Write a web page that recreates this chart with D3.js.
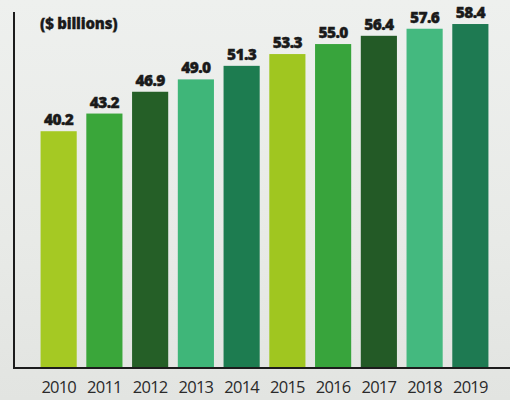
<!DOCTYPE html>
<html>
<head>
<meta charset="utf-8">
<script src="https://cdn.jsdelivr.net/npm/d3@7"></script>
<style>
  html, body { margin: 0; padding: 0; background: #e7e9e6; }
  svg { display: block; }
</style>
</head>
<body>
<svg id="chart" width="510" height="400"></svg>
<script>
// Annual totals, $ billions
const years = ["2010", "2011", "2012", "2013", "2014", "2015", "2016", "2017", "2018", "2019"];
const values = [40.2, 43.2, 46.9, 49.0, 51.3, 53.3, 55.0, 56.4, 57.6, 58.4];
const barColors = ["#a5c923", "#3aa63a", "#255f27", "#3fb679", "#1d7c50",
                   "#a0c620", "#38a43c", "#235a26", "#44b97f", "#1e7a52"];
const unitLabel = "($ billions)";

const svg = d3.select("#chart");
const W = 510, H = 400;

// soft paper backdrop
const defs = svg.append("defs");
const bg = defs.append("linearGradient").attr("id", "paper")
  .attr("x1", 0).attr("y1", 0).attr("x2", 0).attr("y2", 1);
bg.append("stop").attr("offset", "0%").attr("stop-color", "#eef0ee");
bg.append("stop").attr("offset", "60%").attr("stop-color", "#e8eae7");
bg.append("stop").attr("offset", "100%").attr("stop-color", "#e2e4e1");
svg.append("rect").attr("width", W).attr("height", H).attr("fill", "url(#paper)");

const axisX = 14, baseY = 368;

const x = d3.scaleBand()
  .domain(years)
  .range([36, 493])
  .paddingInner(0.21)
  .paddingOuter(0.1);

const y = d3.scaleLinear()
  .domain([0, 60])
  .range([baseY, baseY - 5.89 * 60]);

// bars
svg.append("g").selectAll("rect")
  .data(values)
  .join("rect")
  .attr("x", (d, i) => x(years[i]))
  .attr("y", d => y(d))
  .attr("width", x.bandwidth())
  .attr("height", d => y(0) - y(d))
  .attr("fill", (d, i) => barColors[i]);

// value labels
svg.append("g").selectAll("text")
  .data(values)
  .join("text")
  .attr("x", (d, i) => x(years[i]) + x.bandwidth() / 2)
  .attr("y", d => y(d) - 6)
  .attr("text-anchor", "middle")
  .attr("font-family", "'Open Sans', 'DejaVu Sans', sans-serif")
  .attr("font-weight", 800)
  .attr("font-size", 15.5)
  .attr("letter-spacing", -0.6)
  .attr("fill", "#1a1a1a")
  .attr("stroke", "#1a1a1a")
  .attr("stroke-width", 0.4)
  .text(d => d.toFixed(1));

// year axis
const xAxis = d3.axisBottom(x).tickSize(0).tickPadding(13);
const gx = svg.append("g")
  .attr("transform", `translate(0,${baseY})`)
  .call(xAxis);
gx.select(".domain").remove();
gx.selectAll("text")
  .attr("font-family", "'Open Sans', 'DejaVu Sans', sans-serif")
  .attr("font-size", 16.5)
  .attr("letter-spacing", -0.8)
  .attr("fill", "#2a2a2a");

// axis frame: vertical rule and baseline
svg.append("line")
  .attr("x1", axisX).attr("x2", axisX)
  .attr("y1", 12).attr("y2", baseY)
  .attr("stroke", "#1c1c1c").attr("stroke-width", 2);
svg.append("line")
  .attr("x1", axisX - 1).attr("x2", W)
  .attr("y1", baseY).attr("y2", baseY)
  .attr("stroke", "#1c1c1c").attr("stroke-width", 2);

// unit label
svg.append("text")
  .attr("x", 40).attr("y", 29)
  .attr("font-family", "'Open Sans', 'DejaVu Sans', sans-serif")
  .attr("font-weight", 800)
  .attr("font-size", 15)
  .attr("letter-spacing", -0.2)
  .attr("fill", "#1a1a1a")
  .attr("stroke", "#1a1a1a")
  .attr("stroke-width", 0.3)
  .text(unitLabel);
</script>
</body>
</html>
